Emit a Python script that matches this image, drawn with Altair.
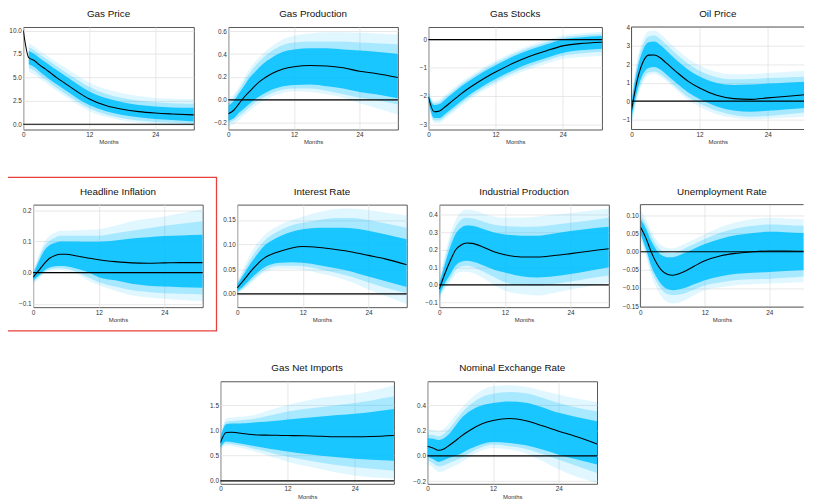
import altair as alt
import pandas as pd

MONTHS = [0, 1, 2, 3, 4, 5, 6, 8, 10, 12, 15, 18, 21, 24, 27, 31]
X_TICKS = [0, 12, 24]

# ---------------- data (median, inner / middle / outer bands) ----------------
gas_price_med = [10.0, 7.1, 6.8, 6.3, 5.9, 5.45, 5.0, 4.2, 3.4, 2.7, 2.0, 1.6, 1.35, 1.2, 1.1, 1.0]
gas_price_inner = ([None, 6.4, 6.1, 5.6, 5.15, 4.7, 4.3, 3.5, 2.7, 2.05, 1.4, 1.0, 0.75, 0.55, 0.45, 0.3],
                   [None, 7.8, 7.5, 7.05, 6.65, 6.2, 5.8, 5.0, 4.2, 3.5, 2.8, 2.35, 2.05, 1.9, 1.8, 1.75])
gas_price_middle = ([None, 6.0, 5.7, 5.2, 4.8, 4.35, 3.9, 3.1, 2.35, 1.7, 1.05, 0.65, 0.4, 0.25, 0.15, 0.05],
                    [None, 8.2, 7.9, 7.45, 7.05, 6.65, 6.2, 5.45, 4.7, 4.0, 3.25, 2.8, 2.5, 2.35, 2.25, 2.2])
gas_price_outer = ([None, 5.6, 5.3, 4.85, 4.45, 4.0, 3.6, 2.8, 2.05, 1.4, 0.8, 0.4, 0.15, 0.0, -0.1, -0.15],
                   [None, 8.6, 8.3, 7.85, 7.45, 7.05, 6.65, 5.9, 5.15, 4.45, 3.75, 3.3, 3.0, 2.8, 2.72, 2.7])
gas_price_ticks = [0, 2.5, 5, 7.5, 10]

gas_prod_med = [-0.12, -0.09, -0.03, 0.03, 0.08, 0.13, 0.17, 0.23, 0.27, 0.29, 0.30, 0.296, 0.28, 0.25, 0.23, 0.195]
gas_prod_inner = ([-0.18, -0.16, -0.11, -0.07, -0.03, 0.01, 0.04, 0.09, 0.12, 0.13, 0.135, 0.12, 0.10, 0.07, 0.05, 0.015],
                  [-0.05, -0.01, 0.06, 0.13, 0.20, 0.25, 0.30, 0.37, 0.42, 0.44, 0.45, 0.45, 0.44, 0.43, 0.42, 0.40])
gas_prod_middle = ([-0.20, -0.18, -0.14, -0.10, -0.06, -0.02, 0.01, 0.06, 0.09, 0.10, 0.10, 0.08, 0.05, 0.02, 0.0, -0.04],
                   [-0.03, 0.02, 0.09, 0.17, 0.24, 0.30, 0.35, 0.43, 0.48, 0.50, 0.51, 0.51, 0.51, 0.50, 0.495, 0.485])
gas_prod_outer = ([-0.23, -0.21, -0.17, -0.13, -0.09, -0.05, -0.02, 0.03, 0.06, 0.075, 0.07, 0.05, 0.02, -0.03, -0.07, -0.13],
                  [0.0, 0.05, 0.12, 0.20, 0.28, 0.34, 0.39, 0.47, 0.53, 0.56, 0.58, 0.59, 0.59, 0.585, 0.58, 0.57])
gas_prod_ticks = [-0.2, 0.0, 0.2, 0.4, 0.6]

gas_stocks_med = [-2.03, -2.56, -2.53, -2.38, -2.22, -2.06, -1.90, -1.62, -1.37, -1.15, -0.85, -0.60, -0.40, -0.22, -0.14, -0.09]
gas_stocks_inner = ([-2.18, -2.78, -2.78, -2.64, -2.48, -2.32, -2.16, -1.87, -1.62, -1.40, -1.10, -0.85, -0.65, -0.47, -0.38, -0.32],
                    [-1.90, -2.32, -2.28, -2.12, -1.96, -1.80, -1.64, -1.37, -1.12, -0.91, -0.61, -0.37, -0.17, 0.01, 0.08, 0.13])
gas_stocks_middle = ([-2.22, -2.86, -2.87, -2.73, -2.57, -2.41, -2.25, -1.96, -1.71, -1.49, -1.19, -0.95, -0.75, -0.57, -0.49, -0.43],
                     [-1.87, -2.25, -2.20, -2.04, -1.88, -1.72, -1.56, -1.29, -1.04, -0.83, -0.53, -0.29, -0.09, 0.08, 0.15, 0.20])
gas_stocks_outer = ([-2.27, -2.95, -2.96, -2.82, -2.66, -2.50, -2.34, -2.05, -1.80, -1.58, -1.29, -1.05, -0.86, -0.69, -0.62, -0.58],
                    [-1.84, -2.17, -2.12, -1.96, -1.80, -1.64, -1.48, -1.21, -0.96, -0.75, -0.45, -0.21, -0.01, 0.15, 0.22, 0.28])
gas_stocks_ticks = [-3, -2, -1, 0]

oil_med = [-0.48, 1.12, 2.10, 2.49, 2.50, 2.36, 2.10, 1.56, 1.07, 0.71, 0.32, 0.14, 0.10, 0.18, 0.25, 0.36]
oil_inner = ([-0.85, 0.55, 1.45, 1.80, 1.85, 1.72, 1.48, 0.95, 0.47, 0.12, -0.28, -0.50, -0.57, -0.52, -0.45, -0.36],
             [-0.10, 1.70, 2.75, 3.18, 3.22, 3.05, 2.78, 2.20, 1.70, 1.33, 0.98, 0.88, 0.90, 0.95, 1.00, 1.05])
oil_middle = ([-1.10, 0.30, 1.18, 1.55, 1.60, 1.48, 1.25, 0.72, 0.22, -0.12, -0.52, -0.75, -0.84, -0.80, -0.72, -0.60],
              [0.10, 2.00, 3.05, 3.50, 3.55, 3.38, 3.10, 2.52, 2.02, 1.65, 1.30, 1.18, 1.20, 1.25, 1.28, 1.32])
oil_outer = ([-1.35, 0.10, 1.00, 1.40, 1.47, 1.35, 1.12, 0.58, 0.05, -0.30, -0.70, -0.90, -0.97, -0.95, -0.90, -0.84],
             [0.30, 2.25, 3.32, 3.78, 3.82, 3.66, 3.38, 2.80, 2.30, 1.93, 1.58, 1.46, 1.47, 1.52, 1.58, 1.65])
oil_ticks = [-1, 0, 1, 2, 3, 4]

infl_med = [-0.015, 0.006, 0.028, 0.046, 0.055, 0.059, 0.059, 0.053, 0.047, 0.041, 0.035, 0.031, 0.030, 0.031, 0.032, 0.032]
infl_inner = ([-0.025, -0.010, 0.006, 0.016, 0.020, 0.021, 0.020, 0.012, 0.002, -0.015, -0.025, -0.036, -0.042, -0.045, -0.047, -0.049],
              [-0.005, 0.035, 0.070, 0.088, 0.096, 0.100, 0.100, 0.100, 0.099, 0.099, 0.103, 0.109, 0.113, 0.117, 0.119, 0.121])
infl_middle = ([-0.030, -0.016, 0.001, 0.010, 0.013, 0.014, 0.012, 0.002, -0.015, -0.031, -0.045, -0.057, -0.062, -0.066, -0.068, -0.070],
               [0.000, 0.045, 0.083, 0.102, 0.112, 0.118, 0.118, 0.118, 0.118, 0.118, 0.126, 0.134, 0.142, 0.150, 0.157, 0.165])
infl_outer = ([-0.035, -0.022, -0.004, 0.005, 0.008, 0.008, 0.006, -0.005, -0.025, -0.041, -0.058, -0.073, -0.080, -0.084, -0.088, -0.092],
              [0.005, 0.055, 0.096, 0.118, 0.128, 0.134, 0.134, 0.136, 0.137, 0.139, 0.150, 0.165, 0.173, 0.180, 0.190, 0.203])
infl_ticks = [-0.1, 0.0, 0.1, 0.2]

rate_med = [0.012, 0.025, 0.039, 0.052, 0.064, 0.073, 0.079, 0.087, 0.093, 0.096, 0.094, 0.090, 0.085, 0.078, 0.071, 0.059]
rate_inner = ([0.005, 0.014, 0.025, 0.036, 0.046, 0.054, 0.059, 0.063, 0.064, 0.063, 0.058, 0.052, 0.045, 0.035, 0.026, 0.014],
              [0.019, 0.036, 0.054, 0.070, 0.085, 0.098, 0.106, 0.118, 0.126, 0.131, 0.134, 0.134, 0.133, 0.128, 0.121, 0.111])
rate_middle = ([0.003, 0.010, 0.020, 0.030, 0.040, 0.048, 0.053, 0.057, 0.057, 0.056, 0.050, 0.043, 0.034, 0.023, 0.013, 0.001],
               [0.022, 0.042, 0.062, 0.080, 0.095, 0.108, 0.117, 0.130, 0.139, 0.144, 0.150, 0.154, 0.154, 0.150, 0.143, 0.134])
rate_outer = ([0.001, 0.007, 0.016, 0.026, 0.036, 0.043, 0.048, 0.051, 0.051, 0.049, 0.042, 0.034, 0.023, 0.009, -0.004, -0.021],
              [0.025, 0.048, 0.072, 0.092, 0.107, 0.119, 0.128, 0.141, 0.150, 0.157, 0.166, 0.172, 0.173, 0.170, 0.165, 0.159])
rate_ticks = [0.0, 0.05, 0.10, 0.15]

ip_med = [-0.023, 0.062, 0.137, 0.200, 0.227, 0.238, 0.236, 0.216, 0.188, 0.171, 0.159, 0.159, 0.167, 0.178, 0.190, 0.206]
ip_inner = ([-0.055, 0.010, 0.060, 0.110, 0.132, 0.137, 0.133, 0.112, 0.087, 0.071, 0.050, 0.043, 0.050, 0.062, 0.078, 0.100],
            [0.005, 0.115, 0.215, 0.290, 0.325, 0.338, 0.336, 0.318, 0.298, 0.287, 0.280, 0.280, 0.292, 0.306, 0.318, 0.330])
ip_middle = ([-0.070, -0.010, 0.035, 0.085, 0.105, 0.109, 0.104, 0.076, 0.045, 0.015, -0.002, -0.004, 0.005, 0.019, 0.035, 0.053],
             [0.015, 0.140, 0.255, 0.330, 0.370, 0.381, 0.378, 0.360, 0.342, 0.334, 0.330, 0.332, 0.342, 0.353, 0.365, 0.381])
ip_outer = ([-0.085, -0.025, 0.015, 0.060, 0.075, 0.075, 0.070, 0.040, 0.000, -0.032, -0.052, -0.060, -0.045, -0.026, -0.010, 0.011],
            [0.030, 0.170, 0.290, 0.370, 0.415, 0.428, 0.425, 0.405, 0.388, 0.381, 0.382, 0.388, 0.400, 0.409, 0.420, 0.433])
ip_ticks = [-0.1, 0.0, 0.1, 0.2, 0.3, 0.4]

unemp_med = [0.069, 0.039, 0.000, -0.031, -0.052, -0.062, -0.065, -0.056, -0.040, -0.025, -0.011, -0.004, 0.000, 0.002, 0.002, 0.001]
unemp_inner = ([0.050, 0.010, -0.038, -0.070, -0.092, -0.103, -0.106, -0.101, -0.090, -0.079, -0.068, -0.061, -0.058, -0.056, -0.053, -0.050],
               [0.090, 0.065, 0.030, 0.005, -0.010, -0.015, -0.015, -0.005, 0.008, 0.021, 0.036, 0.046, 0.052, 0.055, 0.054, 0.051])
unemp_middle = ([0.045, 0.000, -0.050, -0.083, -0.105, -0.117, -0.120, -0.116, -0.104, -0.093, -0.084, -0.078, -0.076, -0.075, -0.072, -0.068],
                [0.100, 0.078, 0.045, 0.018, 0.003, -0.003, -0.004, 0.007, 0.021, 0.035, 0.053, 0.065, 0.072, 0.075, 0.074, 0.071])
unemp_outer = ([0.035, -0.012, -0.065, -0.100, -0.125, -0.139, -0.143, -0.136, -0.120, -0.106, -0.098, -0.092, -0.090, -0.088, -0.086, -0.084],
               [0.115, 0.092, 0.058, 0.032, 0.017, 0.010, 0.009, 0.020, 0.034, 0.048, 0.068, 0.082, 0.090, 0.094, 0.092, 0.089])
unemp_ticks = [-0.15, -0.10, -0.05, 0.0, 0.05, 0.10]

imports_med = [0.76, 0.96, 0.967, 0.955, 0.94, 0.925, 0.915, 0.908, 0.905, 0.90, 0.895, 0.885, 0.875, 0.875, 0.88, 0.90]
imports_inner = ([0.66, 0.78, 0.77, 0.75, 0.73, 0.71, 0.69, 0.655, 0.62, 0.585, 0.54, 0.50, 0.47, 0.44, 0.42, 0.40],
                 [0.86, 1.125, 1.14, 1.14, 1.145, 1.15, 1.16, 1.175, 1.195, 1.22, 1.25, 1.28, 1.31, 1.335, 1.37, 1.43])
imports_middle = ([0.64, 0.74, 0.73, 0.71, 0.69, 0.665, 0.64, 0.59, 0.53, 0.48, 0.42, 0.36, 0.31, 0.27, 0.24, 0.20],
                  [0.88, 1.17, 1.19, 1.20, 1.21, 1.22, 1.235, 1.28, 1.33, 1.38, 1.43, 1.47, 1.51, 1.55, 1.60, 1.68])
imports_outer = ([0.62, 0.70, 0.69, 0.67, 0.65, 0.62, 0.59, 0.52, 0.45, 0.38, 0.30, 0.23, 0.16, 0.105, 0.07, 0.04],
                 [0.90, 1.24, 1.26, 1.27, 1.28, 1.29, 1.31, 1.38, 1.45, 1.51, 1.59, 1.65, 1.69, 1.73, 1.79, 1.90])
imports_ticks = [0.0, 0.5, 1.0, 1.5]

fx_med = [0.076, 0.063, 0.045, 0.055, 0.084, 0.116, 0.150, 0.208, 0.253, 0.279, 0.295, 0.278, 0.238, 0.195, 0.155, 0.095]
fx_inner = ([-0.003, -0.025, -0.047, -0.035, -0.015, 0.000, 0.016, 0.060, 0.095, 0.110, 0.103, 0.085, 0.050, 0.010, -0.025, -0.068],
            [0.142, 0.135, 0.125, 0.140, 0.175, 0.230, 0.287, 0.360, 0.400, 0.418, 0.430, 0.420, 0.385, 0.340, 0.310, 0.274])
fx_middle = ([-0.030, -0.058, -0.082, -0.075, -0.055, -0.038, -0.021, 0.030, 0.070, 0.090, 0.076, 0.055, 0.015, -0.030, -0.075, -0.134],
             [0.168, 0.165, 0.155, 0.175, 0.215, 0.270, 0.326, 0.410, 0.465, 0.490, 0.505, 0.495, 0.460, 0.418, 0.385, 0.353])
fx_outer = ([-0.055, -0.090, -0.126, -0.120, -0.098, -0.078, -0.055, 0.000, 0.045, 0.063, 0.050, 0.020, -0.040, -0.108, -0.160, -0.213],
            [0.208, 0.205, 0.195, 0.215, 0.260, 0.315, 0.366, 0.455, 0.520, 0.550, 0.558, 0.545, 0.515, 0.484, 0.455, 0.426])
fx_ticks = [-0.2, 0.0, 0.2, 0.4]

# ---------------- styling / layout ----------------
BAND = "#00BFFF"
FRAME = "#555555"
PLOT_H = 104
FONT = "Liberation Sans"
ONE = pd.DataFrame({"k": [0]})


def gap(width):
    """Empty, invisible cell used to space the panels of a row."""
    return alt.Chart(ONE).mark_rect(opacity=0).encode(
        x=alt.value(0), x2=alt.value(1), y=alt.value(0), y2=alt.value(1)
    ).properties(width=width, height=PLOT_H, view=alt.ViewBackground(stroke="transparent"))


def panel(title, med, inner, middle, outer, ticks, domain, fmt, width,
          xmax=31, cell=(-18, 16), box=None, open_right=False):
    df = pd.DataFrame({
        "m": MONTHS, "med": med,
        "ilo": inner[0], "ihi": inner[1],
        "mlo": middle[0], "mhi": middle[1],
        "olo": outer[0], "ohi": outer[1],
    })
    xs = alt.Scale(domain=[0, xmax], nice=False, zero=False)
    ys = alt.Scale(domain=domain, nice=False, zero=False)
    xax = alt.Axis(values=X_TICKS, format="d", title="Months")
    yax = alt.Axis(values=ticks, format=fmt, title=None)
    X = alt.X("m:Q", scale=xs, axis=xax)
    base = alt.Chart(df)
    layers = []
    for lo, hi, op in (("olo", "ohi", 0.12), ("mlo", "mhi", 0.245), ("ilo", "ihi", 0.85)):
        layers.append(base.mark_area(color=BAND, opacity=op, interpolate="monotone", clip=True).encode(
            x=X, y=alt.Y(f"{lo}:Q", scale=ys, axis=yax), y2=f"{hi}:Q"))
    layers.append(alt.Chart(pd.DataFrame({"z": [0.0]})).mark_rule(color="black", strokeWidth=1.2).encode(
        y=alt.Y("z:Q", scale=ys, axis=yax)))
    layers.append(base.mark_line(color="black", strokeWidth=1.1, interpolate="monotone", clip=True).encode(
        x=X, y=alt.Y("med:Q", scale=ys, axis=yax)))
    # panel title
    layers.append(alt.Chart(ONE).mark_text(
        text=title, font=FONT, fontSize=10, color="#111111", align="center", baseline="alphabetic"
    ).encode(x=alt.value(width / 2), y=alt.value(-10)))
    # invisible cell that fixes the panel's vertical extent
    layers.append(alt.Chart(ONE).mark_rect(opacity=0).encode(
        x=alt.value(0), x2=alt.value(width), y=alt.value(cell[0]), y2=alt.value(PLOT_H + cell[1])))
    if box is not None:
        layers.append(alt.Chart(ONE).mark_rect(
            filled=False, color="#e8413c", strokeWidth=1.3).encode(
            x=alt.value(box[0]), x2=alt.value(width + box[1]),
            y=alt.value(cell[0]), y2=alt.value(PLOT_H + cell[1])))
    props = dict(width=width, height=PLOT_H)
    if open_right:
        # frame on three sides only: the panel runs past the picture's right edge
        for enc in (dict(x=alt.value(0), y=alt.value(0), y2=alt.value(PLOT_H)),
                    dict(y=alt.value(0), x=alt.value(0), x2=alt.value(width)),
                    dict(y=alt.value(PLOT_H), x=alt.value(0), x2=alt.value(width))):
            layers.append(alt.Chart(ONE).mark_rule(color=FRAME, strokeWidth=1).encode(**enc))
        props["view"] = alt.ViewBackground(stroke="transparent")
    return alt.layer(*layers).properties(**props)


ROW2_CELL = (-27.6, 24)

row1 = alt.hconcat(
    gap(17.5),
    panel("Gas Price", gas_price_med, gas_price_inner, gas_price_middle, gas_price_outer,
          gas_price_ticks, [-0.56, 10.37], ".1f", 173),
    gap(34.7),
    panel("Gas Production", gas_prod_med, gas_prod_inner, gas_prod_middle, gas_prod_outer,
          gas_prod_ticks, [-0.258, 0.636], ".1f", 172),
    gap(30.3),
    panel("Gas Stocks", gas_stocks_med, gas_stocks_inner, gas_stocks_middle, gas_stocks_outer,
          gas_stocks_ticks, [-3.19, 0.45], "d", 176),
    gap(30),
    panel("Oil Price", oil_med, oil_inner, oil_middle, oil_outer,
          oil_ticks, [-1.53, 4.01], "d", 175, xmax=30.4, open_right=True),
    spacing=0, bounds="flush",
)

row2 = alt.hconcat(
    gap(27.8),
    panel("Headline Inflation", infl_med, infl_inner, infl_middle, infl_outer,
          infl_ticks, [-0.111, 0.218], ".1f", 172, cell=ROW2_CELL, box=(-27, 14)),
    gap(34.7),
    panel("Interest Rate", rate_med, rate_inner, rate_middle, rate_outer,
          rate_ticks, [-0.027, 0.181], ".2f", 172, cell=ROW2_CELL),
    gap(32.7),
    panel("Industrial Production", ip_med, ip_inner, ip_middle, ip_outer,
          ip_ticks, [-0.126, 0.456], ".1f", 172, cell=ROW2_CELL),
    gap(31.6),
    panel("Unemployment Rate", unemp_med, unemp_inner, unemp_middle, unemp_outer,
          unemp_ticks, [-0.153, 0.130], ".2f", 165.5, xmax=30.4, cell=ROW2_CELL, open_right=True),
    spacing=0, bounds="flush",
)

row3 = alt.hconcat(
    gap(217.2),
    panel("Gas Net Imports", imports_med, imports_inner, imports_middle, imports_outer,
          imports_ticks, [-0.06, 1.98], ".1f", 176),
    gap(33.6),
    panel("Nominal Exchange Rate", fx_med, fx_inner, fx_middle, fx_outer,
          fx_ticks, [-0.22, 0.589], ".1f", 172),
    spacing=0, bounds="flush",
)

chart = alt.vconcat(row1, row2, row3, spacing=30.2).properties(
    padding={"left": -3.5, "top": -3.3, "right": 0, "bottom": 0}, background="white"
).configure_view(
    stroke=FRAME, strokeWidth=1
).configure_axis(
    labelFont=FONT, labelFontSize=6.5, labelColor="#333333", labelPadding=2,
    labelFlush=False, labelOverlap=False, labelBound=False,
    grid=True, gridColor="#e2e2e2", gridWidth=0.8,
    domain=False, ticks=False,
    titleFont=FONT, titleFontSize=6, titleFontWeight="normal", titleColor="#333333", titlePadding=1,
)

chart.save("out.html", embed_options={"renderer": "svg", "actions": False})
